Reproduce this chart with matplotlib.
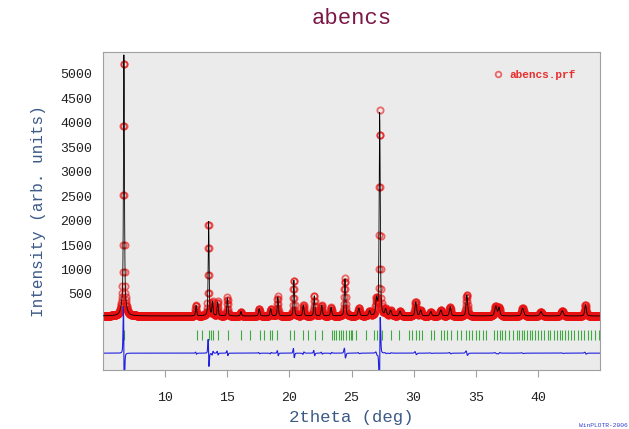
import matplotlib
matplotlib.use('Agg')
import matplotlib.pyplot as plt
import numpy as np

# peaks: position (deg), height above background, fwhm
peak_pos = [6.67, 6.67, 12.48, 13.49, 13.82, 14.22, 15.00, 16.10, 17.56, 18.50,
            19.06, 20.35, 21.13, 21.99, 22.60, 23.36, 24.46, 25.58, 26.45, 27.00,
            27.28, 27.74, 28.15, 28.90, 30.16, 30.56, 31.37, 32.18, 32.93, 34.27,
            36.60, 36.88, 38.76, 40.24, 41.95, 43.82]
peak_height = [5100, 260, 220, 1930, 290, 290, 380, 90, 150, 150,
               400, 730, 220, 410, 220, 180, 770, 160, 100, 330,
               4200, 130, 110, 100, 290, 120, 90, 120, 190, 430,
               200, 170, 160, 90, 110, 230]
peak_fwhm = [0.09, 0.40, 0.10, 0.09, 0.10, 0.10, 0.10, 0.10, 0.12, 0.12,
             0.10, 0.10, 0.12, 0.10, 0.12, 0.12, 0.12, 0.15, 0.15, 0.15,
             0.10, 0.15, 0.15, 0.15, 0.15, 0.15, 0.15, 0.18, 0.15, 0.15,
             0.20, 0.15, 0.20, 0.20, 0.20, 0.15]
# calculated pattern misfit per peak (position shift, deg)
calc_shift = [0.013, 0.0, 0.008, 0.010, -0.010, 0.010, 0.010, 0.0, 0.008, -0.008,
              0.010, 0.010, -0.010, 0.010, 0.008, -0.008, 0.012, 0.008, 0.0, 0.010,
              -0.014, 0.008, -0.008, 0.0, 0.012, 0.0, 0.008, 0.0, 0.008, 0.012,
              0.008, -0.008, 0.008, 0.0, 0.008, 0.010]
background = 50

bragg = [6.67, 12.53, 12.93, 13.55, 13.68, 13.82, 14.22, 15.03, 16.10, 16.83, 17.63,
         17.98, 18.44, 18.58, 18.98, 20.05, 20.38, 21.13, 21.53, 22.07, 22.61,
         23.41, 23.55, 23.74, 23.95, 24.14, 24.35, 24.57, 24.78, 24.97, 25.05,
         25.32, 26.13, 26.80, 27.07, 27.29, 27.47, 28.15, 28.82, 29.62, 29.89,
         30.16, 30.43, 30.70, 31.37, 31.64, 32.18, 32.45, 32.72, 32.98, 33.52,
         33.79, 34.19, 34.46, 34.73, 35.00, 35.27, 35.54, 35.81, 36.48, 36.69,
         36.91, 37.12, 37.34, 37.69, 37.96, 38.31, 38.50, 38.68, 38.90, 39.11,
         39.33, 39.54, 39.76, 39.97, 40.24, 40.51, 40.78, 40.97, 41.32, 41.53,
         41.75, 41.96, 42.18, 42.39, 42.66, 42.93, 43.20, 43.47, 43.74, 44.01,
         44.27, 44.62, 44.95]
diff_offset = -710


def pv(x, x0, w):
    g = np.exp(-4 * np.log(2) * ((x - x0) / w) ** 2)
    l = 1 / (1 + 4 * ((x - x0) / w) ** 2)
    return 0.5 * g + 0.5 * l


tth = np.arange(5.0, 45.0, 0.02)
yobs = np.full_like(tth, background, dtype=float)
ycalc = np.full_like(tth, background, dtype=float)
for p, h, w, s in zip(peak_pos, peak_height, peak_fwhm, calc_shift):
    yobs += h * pv(tth, p, w)
    ycalc += h * pv(tth, p + s, w)
ydiff = yobs - ycalc + diff_offset

fig = plt.figure(figsize=(6.29, 4.29), dpi=100)
ax = fig.add_axes([0.1638, 0.1375, 0.7902, 0.7413])
ax.set_facecolor('#ebebeb')

ax.plot(tth, yobs, 'o', mfc='none', mec='#e81010', ms=4.5, mew=1.3, alpha=0.6,
        label='abencs.prf', zorder=2)
ax.plot(tth, ycalc, color='black', lw=0.6, zorder=3)
ax.vlines(bragg, -440, -237, color='#40a840', lw=0.8, zorder=2)
ax.plot(tth, ydiff, color='#2020e0', lw=0.8, zorder=2)

ax.set_xlim(5, 45)
ax.set_ylim(-1055, 5450)
ax.set_xticks(np.arange(10, 45, 5))
ax.set_yticks(np.arange(500, 5001, 500))

mono = 'Liberation Mono'
for sp in ax.spines.values():
    sp.set_color('#a0a0a0')
ax.tick_params(axis='x', direction='out', length=5, color='#a0a0a0', pad=11)
ax.tick_params(axis='y', length=0, pad=8)
for lab in ax.get_xticklabels() + ax.get_yticklabels():
    lab.set_family(mono)
    lab.set_fontsize(9.5)
    lab.set_color('#202020')

ax.set_title('abencs', family=mono, fontsize=16, color='#7b1848', pad=20)
ax.set_xlabel('2theta (deg)', family=mono, fontsize=12.5, color='#3c5a88', labelpad=4)
ax.set_ylabel('Intensity (arb. units)', family=mono, fontsize=11.5, color='#3c5a88', labelpad=10)

leg = ax.legend(loc='upper right', bbox_to_anchor=(0.97, 0.975), frameon=False,
                handlelength=0.6, handletextpad=0.7, markerscale=0.9,
                prop={'family': mono, 'size': 8, 'weight': 'bold'})
for t in leg.get_texts():
    t.set_color('#e83030')

fig.text(0.998, 0.004, 'WinPLOTR-2006', family=mono, fontsize=4.5, color='#3040d0',
         ha='right')

fig.savefig('out.png', dpi=100)
